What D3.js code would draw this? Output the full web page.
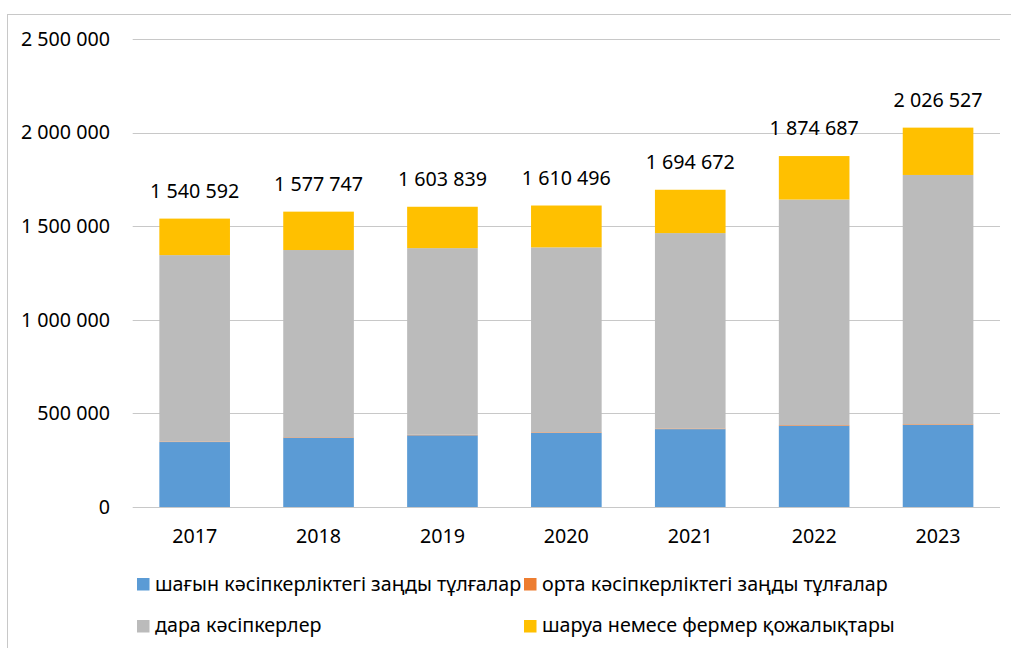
<!DOCTYPE html>
<html>
<head>
<meta charset="utf-8">
<script src="https://cdn.jsdelivr.net/npm/d3@7"></script>
<style>
  html, body { margin: 0; padding: 0; background: #fff; }
  svg { display: block; }
  text { font-family: "Noto Sans", sans-serif; fill: #000; }
</style>
</head>
<body>
<svg id="chart" width="1011" height="648"></svg>
<script>
const categories = ["2017", "2018", "2019", "2020", "2021", "2022", "2023"];
const seriesNames = [
  "шағын кәсіпкерліктегі заңды тұлғалар",
  "орта кәсіпкерліктегі заңды тұлғалар",
  "дара кәсіпкерлер",
  "шаруа немесе фермер қожалықтары"
];
const smallLegal = [347000, 370000, 383000, 396000, 416000, 434000, 438000];
const mediumLegal = [2600, 2700, 2900, 3000, 3200, 3400, 3700];
const individual = [996000, 1000000, 997000, 988000, 1044000, 1205000, 1332000];
const farms = [194992, 205047, 220939, 223496, 231472, 232287, 252827];
const totalLabels = ["1 540 592", "1 577 747", "1 603 839", "1 610 496", "1 694 672", "1 874 687", "2 026 527"];
const yTicks = [0, 500000, 1000000, 1500000, 2000000, 2500000];
const colors = ["#5B9BD5", "#ED7D31", "#BBBBBB", "#FFC000"];

const keys = ["small", "medium", "individual", "farms"];
const table = categories.map((c, i) => ({
  cat: c, small: smallLegal[i], medium: mediumLegal[i],
  individual: individual[i], farms: farms[i]
}));

const FS = 19.7;
const svg = d3.select("#chart");
const plotLeft = 132.7, plotRight = 1000, plotTop = 39, plotBottom = 507;

// outer chart border (right/bottom off-canvas)
svg.append("rect").attr("x", 7.5).attr("y", 14.5).attr("width", 1020).attr("height", 660)
  .attr("fill", "none").attr("stroke", "#C8C8C8").attr("stroke-width", 1);

const x = d3.scaleBand().domain(categories).range([plotLeft, plotRight])
  .paddingInner(0.43).paddingOuter(0.215);
const y = d3.scaleLinear().domain([0, 2500000]).range([plotBottom, plotTop]);

const fmt = v => d3.format(",")(v).replace(/,/g, " ");

// gridlines
svg.append("g").selectAll("line").data(yTicks).join("line")
  .attr("x1", plotLeft).attr("x2", plotRight)
  .attr("y1", d => Math.round(y(d)) + 0.5).attr("y2", d => Math.round(y(d)) + 0.5)
  .attr("stroke", "#C8C8C8").attr("stroke-width", 1);

// y axis labels
const yAxis = d3.axisLeft(y).tickValues(yTicks).tickFormat(fmt).tickSize(0).tickPadding(0);
const gy = svg.append("g").attr("transform", `translate(110,0)`).call(yAxis);
gy.select(".domain").remove();
gy.selectAll("text").attr("font-size", FS).attr("font-family", "Noto Sans").attr("fill", "#000");

// x axis labels
const xAxis = d3.axisBottom(x).tickSize(0).tickPadding(0);
const gx = svg.append("g").attr("transform", `translate(0,${plotBottom})`).call(xAxis);
gx.select(".domain").remove();
gx.selectAll("text").attr("font-size", FS).attr("font-family", "Noto Sans").attr("fill", "#000")
  .attr("dy", null).attr("y", 36);

// stacked bars
const stack = d3.stack().keys(keys)(table);
svg.append("g").selectAll("g").data(stack).join("g")
  .attr("fill", (d, i) => colors[i])
  .selectAll("rect").data(d => d).join("rect")
  .attr("x", d => x(d.data.cat))
  .attr("width", x.bandwidth())
  .attr("y", d => y(d[1]))
  .attr("height", d => Math.max(0, y(d[0]) - y(d[1])));

// total labels
const topLayer = stack[stack.length - 1];
svg.append("g").selectAll("text").data(topLayer).join("text")
  .attr("x", d => x(d.data.cat) + x.bandwidth() / 2)
  .attr("y", d => y(d[1]) - 21)
  .attr("text-anchor", "middle")
  .attr("font-size", FS)
  .text((d, i) => totalLabels[i]);

// legend
const legendPos = [
  { sx: 137, sy: 578, tx: 155, ty: 591 },
  { sx: 524, sy: 578, tx: 542, ty: 591 },
  { sx: 137, sy: 620, tx: 155, ty: 632 },
  { sx: 524, sy: 620, tx: 542, ty: 632 }
];
const lg = svg.append("g");
seriesNames.forEach((name, i) => {
  const p = legendPos[i];
  lg.append("rect").attr("x", p.sx).attr("y", p.sy).attr("width", 12.5).attr("height", 12.5)
    .attr("fill", colors[i]);
  lg.append("text").attr("x", p.tx).attr("y", p.ty).attr("font-size", FS).text(name);
});
</script>
</body>
</html>
